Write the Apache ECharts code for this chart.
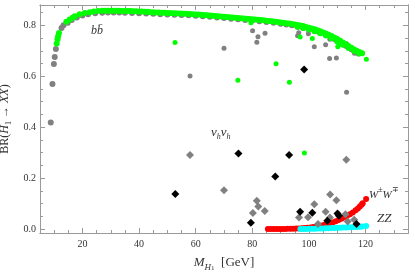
<!DOCTYPE html>
<html><head><meta charset="utf-8">
<script src="https://cdn.jsdelivr.net/npm/echarts@6/dist/echarts.min.js"></script>
<style>html,body{margin:0;padding:0;background:#fff}#c{width:415px;height:274px}</style>
</head><body><div id="c"></div>
<script>
// ---- tick values ----
const xMajorTicks = [20, 40, 60, 80, 100, 120];
const xMinorTicks = [10, 15, 25, 30, 35, 45, 50, 55, 65, 70, 75, 85, 90, 95, 105, 110, 115, 125, 130];
const yMajorTicks = [0, 0.2, 0.4, 0.6, 0.8];
const yMinorTicks = [0.05, 0.1, 0.15, 0.25, 0.3, 0.35, 0.45, 0.5, 0.55, 0.65, 0.7, 0.75, 0.85];

// ---- data: [M_H1 (GeV), BR] ----
const grayCurve = [[8.8,0.418],[9.4,0.57],[9.9,0.648],[10.2,0.676],[10.6,0.707],[12.6,0.79],[13.3,0.8],[14.8,0.81],[16.2,0.821],[18,0.831],[20,0.839],[22,0.844],[24.5,0.848],[27,0.85],[29,0.851],[31,0.851],[33,0.851],[35,0.85],[37.5,0.849],[40,0.848],[42.5,0.847],[45,0.846],[47.5,0.844],[50,0.843],[52.5,0.842],[55,0.841],[57.5,0.84],[60,0.838],[62.5,0.836],[65,0.834],[67.5,0.831],[70,0.829],[72.5,0.826],[75,0.824],[77.5,0.821],[80,0.819],[82.5,0.816],[85,0.813],[87.5,0.81],[90,0.806],[92,0.803],[94,0.8],[96,0.795],[98,0.79],[100,0.784],[102,0.778],[104,0.77],[106,0.762],[108,0.752],[109,0.746],[110,0.74],[111,0.734],[112,0.727],[113,0.72],[114,0.713],[115,0.706],[116,0.699],[117.5,0.689]];
const greenCurve = [[10.9,0.729],[11.2,0.745],[11.4,0.757],[11.7,0.77],[14.3,0.814],[15.5,0.823],[16.5,0.83],[17.3,0.836],[19,0.844],[20.8,0.849],[22.6,0.852],[24,0.854],[25.5,0.856],
[27,0.857],[28,0.857],[29,0.857],[30,0.857],[31,0.857],[32,0.857],[33,0.857],[34,0.856],[35,0.856],[36,0.856],[37,0.856],[38,0.855],[39,0.855],[40,0.854],[41,0.854],[42,0.853],[43,0.853],[44,0.852],[45,0.852],[46,0.851],[47,0.851],[48,0.85],[49,0.85],[50,0.849],[51,0.849],[52,0.848],[53,0.848],[54,0.847],[55,0.847],[56,0.846],[57,0.846],[58,0.845],[59,0.844],[60,0.843],[61,0.843],[62,0.842],[63,0.841],[64,0.84],[65,0.839],[66,0.838],[67,0.837],[68,0.836],[69,0.835],[70,0.834],[71,0.833],[72,0.832],[73,0.831],[74,0.83],[75,0.829],[76,0.828],[77,0.827],[78,0.826],[79,0.825],[80,0.824],[81,0.823],[82,0.822],[83,0.821],[84,0.82],[85,0.818],[86,0.817],[87,0.816],[88,0.814],[89,0.813],[90,0.811],[91,0.81],[92,0.808],[93,0.807],[94,0.805],[95,0.803],[96,0.801],[97,0.799],[98,0.797],[99,0.794],[100,0.791],[101,0.788],[102,0.785],[103,0.781],[104,0.777],[105,0.772],[106,0.768],[107,0.763],[108,0.758],[109,0.752],[110,0.746],[111,0.74],[112,0.733],[113,0.726],[114,0.719],[115,0.712],[116,0.705],[117,0.699],[118,0.694],[118.8,0.69],
[96,0.795],[98,0.79],[100,0.784],[102,0.777],[104,0.769],[106,0.76],[108,0.749],[110,0.737],[112,0.724],[114,0.711],[116,0.699],[117.8,0.689]];
const grayPoints = [[70,0.71],[58,0.601],[80.1,0.779],[82,0.755],[81.6,0.734],[84.5,0.769],[96.4,0.771],[96,0.759],[99.8,0.767],[101.9,0.716],[103.3,0.774],[105.9,0.724],[107.4,0.745],[107.3,0.67],[109.7,0.672],[113.3,0.537],[113.3,0.728],[116.1,0.69]];
const greenPoints = [[52.7,0.733],[74.9,0.584],[79.5,0.81],[88.4,0.649],[93.1,0.576],[96.9,0.754],[101.2,0.748],[106.5,0.759],[110.2,0.716],[110.6,0.724],[120.3,0.667],[98.4,0.298]];
const grayDiamonds = [[58,0.291],[70,0.152],[81.6,0.111],[82.1,0.088],[80.2,0.063],[84.4,0.07],[113.2,0.272],[107.5,0.135],[109.7,0.113],[101.9,0.097],[96.5,0.045],[99.7,0.046],[105.9,0.068],[107.4,0.045],[103.2,0.019],[113.7,0.029],[116,0.036],[112.9,0.058]];
const blackDiamonds = [[98.3,0.627],[75.1,0.296],[52.8,0.137],[79.5,0.024],[93,0.291],[88.1,0.206],[96.9,0.068],[101.2,0.064],[110.1,0.061],[110.6,0.052],[106.5,0.032],[116.8,0.019]];
const redWW = [[85.5,0],[86.5,0],[87.5,0],[88.5,0],[89.5,0],[90.5,0],[91.5,0],[92.5,0.001],[93.5,0.001],[94.5,0.001],[95.5,0.002],[96.5,0.002],[97.5,0.003],[98.5,0.004],[99.5,0.005],[100.5,0.006],[101.5,0.008],[102.5,0.009],[103.5,0.011],[104.5,0.013],[105.5,0.016],[106.5,0.019],[107.5,0.022],[108.5,0.026],[109.5,0.03],[110.5,0.035],[111.5,0.04],[112.5,0.046],[113.5,0.052],[114.5,0.058],[115.5,0.065],[116.5,0.073],[117.3,0.08],[118,0.088],[118.6,0.095],[119,0.101],[120.2,0.118]];
const cyanZZ = [[97,0],[98,0],[99,0],[100,0.001],[101,0.001],[102,0.001],[103,0.002],[104,0.002],[105,0.002],[106,0.003],[107,0.003],[108,0.004],[109,0.004],[110,0.005],[111,0.005],[112,0.006],[113,0.006],[114,0.007],[115,0.007],[116,0.008],[117,0.008],[118,0.009],[118.8,0.01],[120.2,0.012]];

const FONT = 'Liberation Serif';
const AX = '#9a9a9a';
const xMin = 5, xMax = 135, yMin = -0.016, yMax = 0.88;

function xAx(pos, vals, len, labels, extra) {
  return Object.assign({
    type: 'value', position: pos, min: xMin, max: xMax,
    axisLine: {show: true, onZero: false, lineStyle: {color: AX, width: 1}},
    axisTick: {show: true, inside: true, length: len, customValues: vals, lineStyle: {color: AX}},
    axisLabel: {show: labels, customValues: vals, fontFamily: FONT, fontSize: 10, color: '#333', margin: 6},
    splitLine: {show: false}
  }, extra || {});
}
function yAx(pos, vals, len, labels, extra) {
  return Object.assign({
    type: 'value', position: pos, min: yMin, max: yMax,
    axisLine: {show: true, onZero: false, lineStyle: {color: AX, width: 1}},
    axisTick: {show: true, inside: true, length: len, customValues: vals, lineStyle: {color: AX}},
    axisLabel: {show: labels, customValues: vals, fontFamily: FONT, fontSize: 10, color: '#333', margin: 4,
      formatter: v => v.toFixed(1)},
    splitLine: {show: false}
  }, extra || {});
}

const chart = echarts.init(document.getElementById('c'), null, {renderer: 'canvas'});
const sc = (data, color, size, symbol, z) => ({
  type: 'scatter', data, symbol: symbol || 'circle', symbolSize: size,
  itemStyle: {color, opacity: 1}, z: z, silent: true, animation: false
});
chart.setOption({
  animation: false,
  grid: {left: 40, right: 7, top: 5, bottom: 41, containLabel: false, outerBoundsMode: 'none'},
  xAxis: [
    xAx('bottom', xMajorTicks, 5, true, {
      name: '{i|M}{s|H}{ss|1}{r|  [GeV]}', nameLocation: 'middle', nameGap: 21,
      nameTextStyle: {fontFamily: FONT, fontSize: 13, color: '#333', rich: {
        i: {fontFamily: FONT, fontSize: 13, fontStyle: 'italic', lineHeight: 18, verticalAlign: 'middle', color: '#333'},
        s: {fontFamily: FONT, fontSize: 9, fontStyle: 'italic', lineHeight: 12, verticalAlign: 'bottom', color: '#333'},
        ss: {fontFamily: FONT, fontSize: 7, lineHeight: 9, verticalAlign: 'bottom', color: '#333'},
        r: {fontFamily: FONT, fontSize: 13, lineHeight: 18, verticalAlign: 'middle', color: '#333'}
      }}
    }),
    xAx('bottom', xMinorTicks, 3, false),
    xAx('top', xMajorTicks, 5, false),
    xAx('top', xMinorTicks, 3, false)
  ],
  yAxis: [
    yAx('left', yMajorTicks, 5, true, {
      name: '{r|BR(}{i|H}{s|1}{r| → }{i|XX}{r|)}', nameLocation: 'middle', nameGap: 27, nameRotate: 90,
      nameTextStyle: {fontFamily: FONT, fontSize: 12, color: '#333', rich: {
        i: {fontFamily: FONT, fontSize: 12, fontStyle: 'italic', lineHeight: 16, verticalAlign: 'middle', color: '#333'},
        s: {fontFamily: FONT, fontSize: 8, lineHeight: 10, verticalAlign: 'bottom', color: '#333'},
        r: {fontFamily: FONT, fontSize: 12, lineHeight: 16, verticalAlign: 'middle', color: '#333'}
      }}
    }),
    yAx('left', yMinorTicks, 3, false),
    yAx('right', yMajorTicks, 5, false),
    yAx('right', yMinorTicks, 3, false)
  ],
  series: [
    sc(grayCurve, '#808080', 6, 'circle', 2),
    sc(grayPoints, '#808080', 5, 'circle', 2),
    sc(greenCurve, '#00ff00', 6, 'circle', 3),
    sc(greenPoints, '#00ff00', 5, 'circle', 3),
    sc(redWW, '#ff0000', 6, 'circle', 4),
    sc(cyanZZ, '#00ffff', 6, 'circle', 5),
    sc(grayDiamonds, '#808080', 8, 'diamond', 6),
    sc(blackDiamonds, '#000000', 8, 'diamond', 7)
  ],
  graphic: [
    {type: 'text', left: 91, top: 25, style: {text: 'bb\u0304', font: 'italic 12px "Liberation Serif"', fill: '#333'}},
    {type: 'text', left: 211, top: 126, style: {text: '{n|ν}{s|h}{n|ν}{s|h}', fill: '#333', rich: {
      n: {font: 'italic 13px "Liberation Serif"', lineHeight: 16, verticalAlign: 'middle', fill: '#333'},
      s: {font: 'italic 8px "Liberation Serif"', lineHeight: 10, verticalAlign: 'bottom', fill: '#333'}}}},
    {type: 'text', left: 369, top: 186, style: {text: '{n|W}{p|±}{n|W}{p|∓}', fill: '#333', rich: {
      n: {font: 'italic 11px "Liberation Serif"', lineHeight: 15, verticalAlign: 'bottom', fill: '#333'},
      p: {font: '8px "Liberation Serif"', lineHeight: 10, verticalAlign: 'top', fill: '#333'}}}},
    {type: 'text', left: 377, top: 212, style: {text: 'ZZ', font: 'italic 13px "Liberation Serif"', fill: '#333'}}
  ]
});
</script></body></html>
